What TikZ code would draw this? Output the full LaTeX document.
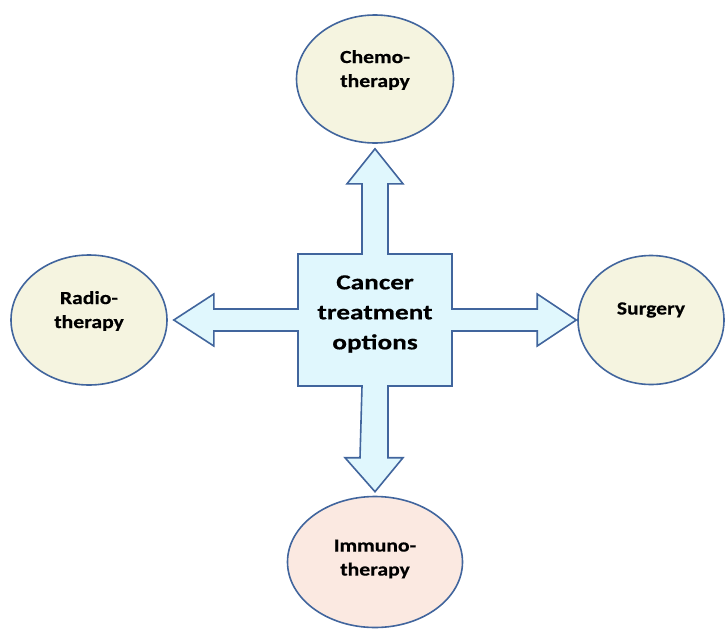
\documentclass[tikz,border=0pt]{standalone}
\usepackage{fontspec}
\setmainfont[FakeStretch=1.17, FakeBold=0.4]{Carlito}
\newfontfamily\hubfont[FakeStretch=1.27, FakeBold=0.4]{Carlito}
\usetikzlibrary{backgrounds,calc,shapes.geometric}
\definecolor{rim}{HTML}{41659D}
\definecolor{sky}{HTML}{E0F7FD}
\definecolor{cream}{HTML}{F5F4E0}
\definecolor{blush}{HTML}{FBE9E1}
\tikzset{>=latex,
    oval/.style={ellipse, draw=rim, line width=1.6pt, fill=cream, inner sep=0},
    ovaltext/.style={align=center, font=\bfseries\fontsize{18.5}{24}\selectfont},
    hub/.style={rectangle, inner sep=0, outer sep=0, minimum width=154, minimum height=132},
    hubtext/.style={align=center, font=\hubfont\bfseries\fontsize{21.5}{30}\selectfont}
}

\begin{document}
\begin{tikzpicture}[x=1pt, y=-1pt]

    \useasboundingbox (0,0) rectangle (725,629);

    \node[hub] (opt) at (375,320) {};
    \node[hubtext] (opttext) at (375,314) {Cancer\\treatment\\options};

    \node[oval, minimum width=157, minimum height=128] (chemo) at (375,79) {};
    \node[ovaltext] (chemotext) at (375,70) {Chemo-\\therapy};
    \node[oval, minimum width=156, minimum height=130] (radio) at (89,320) {};
    \node[ovaltext] (radiotext) at (89,311) {Radio-\\therapy};
    \node[oval, minimum width=146, minimum height=129] (surgery) at (651,320) {};
    \node[ovaltext] (surgerytext) at (651,310) {Surgery};
    \node[oval, fill=blush, minimum width=175, minimum height=131] (immuno) at (375,562) {};
    \node[ovaltext] (immunotext) at (375,559) {Immuno-\\therapy};

    \begin{scope}[on background layer]
    \draw[rim, line width=1.6pt, fill=sky, line join=miter]
        (opt.north west)
        -- ($(opt.north)+(-13,0)$) -- ($(chemo.south)+(-13,40)$) -- ++(-15,0)
        -- ($(chemo.south)+(0,5)$)
        -- ($(chemo.south)+(28,40)$) -- ++(-15,0) -- ($(opt.north)+(13,0)$)
        -- (opt.north east)
        -- ($(opt.east)+(0,-11)$) -- ($(surgery.west)+(-40,-11)$) -- ++(0,-15)
        -- ($(surgery.west)+(-1,0)$)
        -- ($(surgery.west)+(-40,26)$) -- ++(0,-15) -- ($(opt.east)+(0,11)$)
        -- (opt.south east)
        -- ($(opt.south)+(13,0)$) -- ($(immuno.north)+(13,-38)$) -- ++(15,0)
        -- ($(immuno.north)+(0,-4)$)
        -- ($(immuno.north)+(-30,-38)$) -- ++(15,0) -- ($(opt.south)+(-13,0)$)
        -- (opt.south west)
        -- ($(opt.west)+(0,11)$) -- ($(radio.east)+(46,11)$) -- ++(0,15)
        -- ($(radio.east)+(6,0)$)
        -- ($(radio.east)+(46,-26)$) -- ++(0,15) -- ($(opt.west)+(0,-11)$)
        -- cycle;
    \end{scope}

\end{tikzpicture}
\end{document}
